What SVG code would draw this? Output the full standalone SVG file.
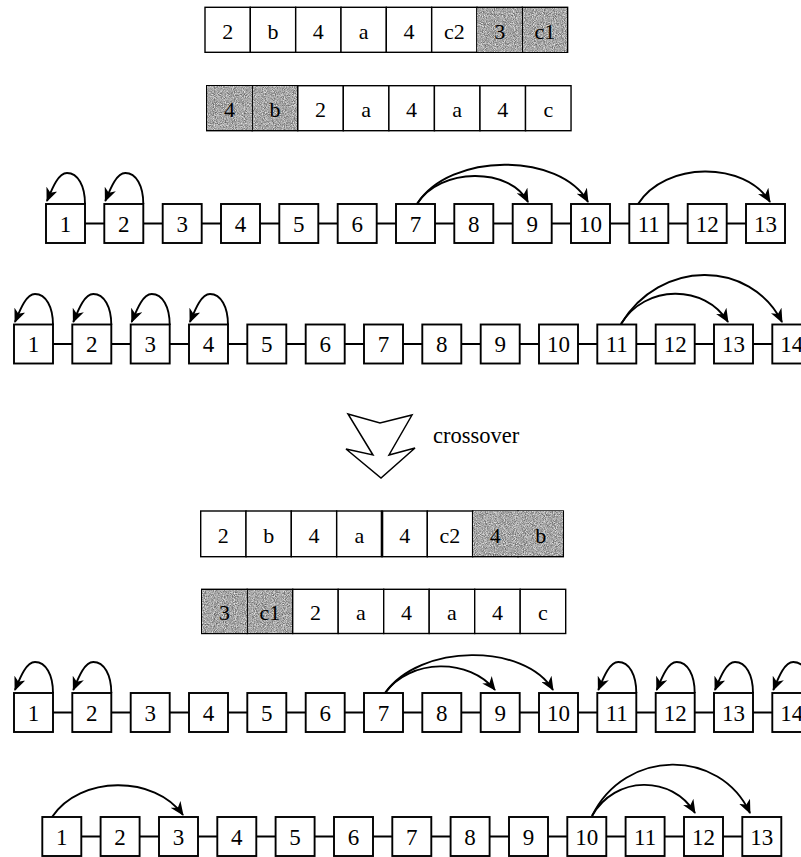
<svg xmlns="http://www.w3.org/2000/svg" width="801" height="857" viewBox="0 0 801 857">
<style>
.bx{fill:#fff;stroke:#000;stroke-width:1.9}
.cell{fill:#fff;stroke:#000;stroke-width:1.4}
.sh{fill:#a6a6a6}
.gr{filter:url(#grain)}
.t{font-family:"Liberation Serif","Times New Roman","DejaVu Serif",serif;font-size:23px;text-anchor:middle;fill:#000}
.tt{font-family:"Liberation Serif","Times New Roman","DejaVu Serif",serif;font-size:22px;text-anchor:middle;fill:#000}
.ln{stroke:#000;stroke-width:1.9;fill:none}
.arc{stroke:#000;stroke-width:1.9;fill:none;marker-end:url(#ah)}
</style>
<defs>
<marker id="ah" viewBox="0 0 14 12" refX="13" refY="6" markerWidth="14" markerHeight="12" markerUnits="userSpaceOnUse" orient="auto"><path d="M0,0 L14,6 L0,12 L4,6 z" fill="#000"/></marker>
<filter id="grain" x="0" y="0" width="100%" height="100%" color-interpolation-filters="sRGB">
<feTurbulence type="fractalNoise" baseFrequency="1.1" numOctaves="1" seed="4" result="n"/>
<feColorMatrix in="n" type="matrix" values="0.9 0 0 0 0.2  0.9 0 0 0 0.2  0.9 0 0 0 0.2  0 0 0 0 1"/>
</filter>
</defs>

<!-- Tables -->
<g id="table1">
<rect class="cell" x="205" y="7.3" width="45.33" height="45"/>
<rect class="cell" x="250.3" y="7.3" width="45.33" height="45"/>
<rect class="cell" x="295.7" y="7.3" width="45.33" height="45"/>
<rect class="cell" x="341" y="7.3" width="45.33" height="45"/>
<rect class="cell" x="386.3" y="7.3" width="45.33" height="45"/>
<rect class="cell" x="431.7" y="7.3" width="45.33" height="45"/>
<rect class="cell sh" x="477" y="7.3" width="45.33" height="45"/>
<rect class="cell sh" x="522.3" y="7.3" width="45.33" height="45"/>
<rect class="gr" x="477.8" y="8.1" width="43.7" height="43.4"/>
<rect class="gr" x="523.1" y="8.1" width="43.7" height="43.4"/>
<text class="tt" x="227.7" y="38.5">2</text>
<text class="tt" x="273" y="38.5">b</text>
<text class="tt" x="318.3" y="38.5">4</text>
<text class="tt" x="363.7" y="38.5">a</text>
<text class="tt" x="409" y="38.5">4</text>
<text class="tt" x="454.3" y="38.5">c2</text>
<text class="tt" x="499.7" y="38.5">3</text>
<text class="tt" x="545" y="38.5">c1</text>
</g>
<g id="table2">
<rect class="cell sh" x="206.7" y="85.7" width="45.54" height="45"/>
<rect class="cell sh" x="252.2" y="85.7" width="45.54" height="45"/>
<rect class="gr" x="207.5" y="86.5" width="43.9" height="43.4"/>
<rect class="gr" x="253" y="86.5" width="43.9" height="43.4"/>
<rect class="cell" x="297.8" y="85.7" width="45.54" height="45"/>
<rect class="cell" x="343.3" y="85.7" width="45.54" height="45"/>
<rect class="cell" x="388.9" y="85.7" width="45.54" height="45"/>
<rect class="cell" x="434.4" y="85.7" width="45.54" height="45"/>
<rect class="cell" x="480" y="85.7" width="45.54" height="45"/>
<rect class="cell" x="525.5" y="85.7" width="45.54" height="45"/>
<text class="tt" x="229.4" y="117">4</text>
<text class="tt" x="275" y="117">b</text>
<text class="tt" x="320.5" y="117">2</text>
<text class="tt" x="366.1" y="117">a</text>
<text class="tt" x="411.6" y="117">4</text>
<text class="tt" x="457.2" y="117">a</text>
<text class="tt" x="502.7" y="117">4</text>
<text class="tt" x="548.3" y="117">c</text>
</g>
<g id="table3">
<rect class="cell" x="200.7" y="511" width="45.33" height="45.7"/>
<rect class="cell" x="246" y="511" width="45.33" height="45.7"/>
<rect class="cell" x="291.3" y="511" width="45.33" height="45.7"/>
<rect class="cell" x="336.7" y="511" width="45.33" height="45.7"/>
<rect class="cell" x="382" y="511" width="45.33" height="45.7"/>
<rect class="cell" x="427.3" y="511" width="45.33" height="45.7"/>
<rect class="cell sh" x="472.7" y="511" width="45.33" height="45.7"/>
<rect class="cell sh" x="518" y="511" width="45.33" height="45.7"/>
<rect class="gr" x="473.5" y="511.8" width="43.7" height="44.1"/>
<rect class="gr" x="518.8" y="511.8" width="43.7" height="44.1"/>
<line x1="382" y1="511" x2="382" y2="556.7" stroke="#000" stroke-width="2.6"/>
<text class="tt" x="223.3" y="543">2</text>
<text class="tt" x="268.7" y="543">b</text>
<text class="tt" x="314" y="543">4</text>
<text class="tt" x="359.3" y="543">a</text>
<text class="tt" x="404.7" y="543">4</text>
<text class="tt" x="450" y="543">c2</text>
<text class="tt" x="495.3" y="543">4</text>
<text class="tt" x="540.7" y="543">b</text>
</g>
<g id="table4">
<rect class="cell sh" x="201.7" y="589.3" width="45.5" height="44.2"/>
<rect class="cell sh" x="247.2" y="589.3" width="45.5" height="44.2"/>
<rect class="gr" x="202.5" y="590.1" width="43.9" height="42.6"/>
<rect class="gr" x="248" y="590.1" width="43.9" height="42.6"/>
<rect class="cell" x="292.7" y="589.3" width="45.5" height="44.2"/>
<rect class="cell" x="338.2" y="589.3" width="45.5" height="44.2"/>
<rect class="cell" x="383.7" y="589.3" width="45.5" height="44.2"/>
<rect class="cell" x="429.2" y="589.3" width="45.5" height="44.2"/>
<rect class="cell" x="474.7" y="589.3" width="45.5" height="44.2"/>
<rect class="cell" x="520.2" y="589.3" width="45.5" height="44.2"/>
<text class="tt" x="224.4" y="620">3</text>
<text class="tt" x="269.9" y="620">c1</text>
<text class="tt" x="315.4" y="620">2</text>
<text class="tt" x="360.9" y="620">a</text>
<text class="tt" x="406.4" y="620">4</text>
<text class="tt" x="451.9" y="620">a</text>
<text class="tt" x="497.4" y="620">4</text>
<text class="tt" x="542.9" y="620">c</text>
</g>

<!-- Crossover arrow -->
<g id="crossover">
<polygon points="348,414 380,423 412,415 389,455 415,448 381,478 346,449 373,455" fill="#fff" stroke="#000" stroke-width="1.5" stroke-linejoin="miter"/>
<text x="433" y="443" style="font-family:'Liberation Serif','Times New Roman','DejaVu Serif',serif;font-size:22.5px;fill:#000">crossover</text>
</g>

<!-- Connectors -->
<g id="connectors">
<path class="ln" d="M85,223.5H104.3M143.3,223.5H162.7M201.7,223.5H221M260,223.5H279.3M318.3,223.5H337.7M376.7,223.5H396M435,223.5H454.3M493.3,223.5H512.7M551.7,223.5H571M610,223.5H629.3M668.3,223.5H687.7M726.7,223.5H746"/>
<path class="ln" d="M53,344H72.3M111.3,344H130.7M169.7,344H189M228,344H247.3M286.3,344H305.7M344.7,344H364M403,344H422.3M461.3,344H480.7M519.7,344H539M578,344H597.3M636.3,344H655.7M694.7,344H714M753,344H772.3"/>
<path class="ln" d="M53,712.5H72.3M111.3,712.5H130.7M169.7,712.5H189M228,712.5H247.3M286.3,712.5H305.7M344.7,712.5H364M403,712.5H422.3M461.3,712.5H480.7M519.7,712.5H539M578,712.5H597.3M636.3,712.5H655.7M694.7,712.5H714M753,712.5H772.3"/>
<path class="ln" d="M81.3,836.5H100.6M139.6,836.5H159M198,836.5H217.3M256.3,836.5H275.6M314.6,836.5H334M373,836.5H392.3M431.3,836.5H450.6M489.6,836.5H509M548,836.5H567.3M606.3,836.5H625.6M664.6,836.5H684M723,836.5H742.3"/>
<!-- row 1 -->
<path class="arc" d="M85,204 C85,186 78,173 67,173 C58,173 52,189 47,201"/>
<path class="arc" d="M143.3,204 C143.3,186 136.3,173 125.3,173 C116.3,173 110.3,189 105.3,201"/>
<path class="arc" d="M417,204 C440,167 510,167 528,202"/>
<path class="arc" d="M417,204 C450,152 560,152 588,202"/>
<path class="arc" d="M638,204 C665,161 745,161 770,202"/>
<!-- row 2 -->
<path class="arc" d="M53,325 C53,307 46,294 35,294 C26,294 20,310 15,322"/>
<path class="arc" d="M111.3,325 C111.3,307 104.3,294 93.3,294 C84.3,294 78.3,310 73.3,322"/>
<path class="arc" d="M169.7,325 C169.7,307 162.7,294 151.7,294 C142.7,294 136.7,310 131.7,322"/>
<path class="arc" d="M228,325 C228,307 221,294 210,294 C201,294 195,310 190,322"/>
<path class="arc" d="M621,324 C645,284 705,284 728,322"/>
<path class="arc" d="M621,324 C660,259 750,259 782,322"/>
<!-- row 3 -->
<path class="arc" d="M53,693 C53,675 46,662 35,662 C26,662 20,678 15,690"/>
<path class="arc" d="M111.3,693 C111.3,675 104.3,662 93.3,662 C84.3,662 78.3,678 73.3,690"/>
<path class="arc" d="M385,693 C410,658 470,658 495,690"/>
<path class="arc" d="M385,693 C420,643 525,643 553,690"/>
<path class="arc" d="M636.3,693 C636.3,675 629.3,662 618.3,662 C609.3,662 603.3,678 598.3,690"/>
<path class="arc" d="M694.7,693 C694.7,675 687.7,662 676.7,662 C667.7,662 661.7,678 656.7,690"/>
<path class="arc" d="M753,693 C753,675 746,662 735,662 C726,662 720,678 715,690"/>
<path class="arc" d="M811.3,693 C811.3,675 804.3,662 793.3,662 C784.3,662 778.3,678 773.3,690"/>
<!-- row 4 -->
<path class="arc" d="M52,817 C80,775 155,775 183,815"/>
<path class="arc" d="M592,816 C615,775 672,775 695,813"/>
<path class="arc" d="M592,816 C625,748 720,748 750,813"/>
</g>

<!-- Row 1 nodes -->
<g id="r1n1"><rect class="bx" x="46" y="204" width="39" height="39"/><text class="t" x="65.5" y="231.5">1</text></g>
<g id="r1n2"><rect class="bx" x="104.3" y="204" width="39" height="39"/><text class="t" x="123.8" y="231.5">2</text></g>
<g id="r1n3"><rect class="bx" x="162.7" y="204" width="39" height="39"/><text class="t" x="182.2" y="231.5">3</text></g>
<g id="r1n4"><rect class="bx" x="221" y="204" width="39" height="39"/><text class="t" x="240.5" y="231.5">4</text></g>
<g id="r1n5"><rect class="bx" x="279.3" y="204" width="39" height="39"/><text class="t" x="298.8" y="231.5">5</text></g>
<g id="r1n6"><rect class="bx" x="337.7" y="204" width="39" height="39"/><text class="t" x="357.2" y="231.5">6</text></g>
<g id="r1n7"><rect class="bx" x="396" y="204" width="39" height="39"/><text class="t" x="415.5" y="231.5">7</text></g>
<g id="r1n8"><rect class="bx" x="454.3" y="204" width="39" height="39"/><text class="t" x="473.8" y="231.5">8</text></g>
<g id="r1n9"><rect class="bx" x="512.7" y="204" width="39" height="39"/><text class="t" x="532.2" y="231.5">9</text></g>
<g id="r1n10"><rect class="bx" x="571" y="204" width="39" height="39"/><text class="t" x="590.5" y="231.5">10</text></g>
<g id="r1n11"><rect class="bx" x="629.3" y="204" width="39" height="39"/><text class="t" x="648.8" y="231.5">11</text></g>
<g id="r1n12"><rect class="bx" x="687.7" y="204" width="39" height="39"/><text class="t" x="707.2" y="231.5">12</text></g>
<g id="r1n13"><rect class="bx" x="746" y="204" width="39" height="39"/><text class="t" x="765.5" y="231.5">13</text></g>

<!-- Row 2 nodes -->
<g id="r2n1"><rect class="bx" x="14" y="324.5" width="39" height="39"/><text class="t" x="33.5" y="352">1</text></g>
<g id="r2n2"><rect class="bx" x="72.3" y="324.5" width="39" height="39"/><text class="t" x="91.8" y="352">2</text></g>
<g id="r2n3"><rect class="bx" x="130.7" y="324.5" width="39" height="39"/><text class="t" x="150.2" y="352">3</text></g>
<g id="r2n4"><rect class="bx" x="189" y="324.5" width="39" height="39"/><text class="t" x="208.5" y="352">4</text></g>
<g id="r2n5"><rect class="bx" x="247.3" y="324.5" width="39" height="39"/><text class="t" x="266.8" y="352">5</text></g>
<g id="r2n6"><rect class="bx" x="305.7" y="324.5" width="39" height="39"/><text class="t" x="325.2" y="352">6</text></g>
<g id="r2n7"><rect class="bx" x="364" y="324.5" width="39" height="39"/><text class="t" x="383.5" y="352">7</text></g>
<g id="r2n8"><rect class="bx" x="422.3" y="324.5" width="39" height="39"/><text class="t" x="441.8" y="352">8</text></g>
<g id="r2n9"><rect class="bx" x="480.7" y="324.5" width="39" height="39"/><text class="t" x="500.2" y="352">9</text></g>
<g id="r2n10"><rect class="bx" x="539" y="324.5" width="39" height="39"/><text class="t" x="558.5" y="352">10</text></g>
<g id="r2n11"><rect class="bx" x="597.3" y="324.5" width="39" height="39"/><text class="t" x="616.8" y="352">11</text></g>
<g id="r2n12"><rect class="bx" x="655.7" y="324.5" width="39" height="39"/><text class="t" x="675.2" y="352">12</text></g>
<g id="r2n13"><rect class="bx" x="714" y="324.5" width="39" height="39"/><text class="t" x="733.5" y="352">13</text></g>
<g id="r2n14"><rect class="bx" x="772.3" y="324.5" width="39" height="39"/><text class="t" x="791.8" y="352">14</text></g>

<!-- Row 3 nodes -->
<g id="r3n1"><rect class="bx" x="14" y="693" width="39" height="39"/><text class="t" x="33.5" y="720.5">1</text></g>
<g id="r3n2"><rect class="bx" x="72.3" y="693" width="39" height="39"/><text class="t" x="91.8" y="720.5">2</text></g>
<g id="r3n3"><rect class="bx" x="130.7" y="693" width="39" height="39"/><text class="t" x="150.2" y="720.5">3</text></g>
<g id="r3n4"><rect class="bx" x="189" y="693" width="39" height="39"/><text class="t" x="208.5" y="720.5">4</text></g>
<g id="r3n5"><rect class="bx" x="247.3" y="693" width="39" height="39"/><text class="t" x="266.8" y="720.5">5</text></g>
<g id="r3n6"><rect class="bx" x="305.7" y="693" width="39" height="39"/><text class="t" x="325.2" y="720.5">6</text></g>
<g id="r3n7"><rect class="bx" x="364" y="693" width="39" height="39"/><text class="t" x="383.5" y="720.5">7</text></g>
<g id="r3n8"><rect class="bx" x="422.3" y="693" width="39" height="39"/><text class="t" x="441.8" y="720.5">8</text></g>
<g id="r3n9"><rect class="bx" x="480.7" y="693" width="39" height="39"/><text class="t" x="500.2" y="720.5">9</text></g>
<g id="r3n10"><rect class="bx" x="539" y="693" width="39" height="39"/><text class="t" x="558.5" y="720.5">10</text></g>
<g id="r3n11"><rect class="bx" x="597.3" y="693" width="39" height="39"/><text class="t" x="616.8" y="720.5">11</text></g>
<g id="r3n12"><rect class="bx" x="655.7" y="693" width="39" height="39"/><text class="t" x="675.2" y="720.5">12</text></g>
<g id="r3n13"><rect class="bx" x="714" y="693" width="39" height="39"/><text class="t" x="733.5" y="720.5">13</text></g>
<g id="r3n14"><rect class="bx" x="772.3" y="693" width="39" height="39"/><text class="t" x="791.8" y="720.5">14</text></g>

<!-- Row 4 nodes -->
<g id="r4n1"><rect class="bx" x="42.3" y="817" width="39" height="39"/><text class="t" x="61.8" y="844.5">1</text></g>
<g id="r4n2"><rect class="bx" x="100.6" y="817" width="39" height="39"/><text class="t" x="120.1" y="844.5">2</text></g>
<g id="r4n3"><rect class="bx" x="159" y="817" width="39" height="39"/><text class="t" x="178.5" y="844.5">3</text></g>
<g id="r4n4"><rect class="bx" x="217.3" y="817" width="39" height="39"/><text class="t" x="236.8" y="844.5">4</text></g>
<g id="r4n5"><rect class="bx" x="275.6" y="817" width="39" height="39"/><text class="t" x="295.1" y="844.5">5</text></g>
<g id="r4n6"><rect class="bx" x="334" y="817" width="39" height="39"/><text class="t" x="353.5" y="844.5">6</text></g>
<g id="r4n7"><rect class="bx" x="392.3" y="817" width="39" height="39"/><text class="t" x="411.8" y="844.5">7</text></g>
<g id="r4n8"><rect class="bx" x="450.6" y="817" width="39" height="39"/><text class="t" x="470.1" y="844.5">8</text></g>
<g id="r4n9"><rect class="bx" x="509" y="817" width="39" height="39"/><text class="t" x="528.5" y="844.5">9</text></g>
<g id="r4n10"><rect class="bx" x="567.3" y="817" width="39" height="39"/><text class="t" x="586.8" y="844.5">10</text></g>
<g id="r4n11"><rect class="bx" x="625.6" y="817" width="39" height="39"/><text class="t" x="645.1" y="844.5">11</text></g>
<g id="r4n12"><rect class="bx" x="684" y="817" width="39" height="39"/><text class="t" x="703.5" y="844.5">12</text></g>
<g id="r4n13"><rect class="bx" x="742.3" y="817" width="39" height="39"/><text class="t" x="761.8" y="844.5">13</text></g>
</svg>
